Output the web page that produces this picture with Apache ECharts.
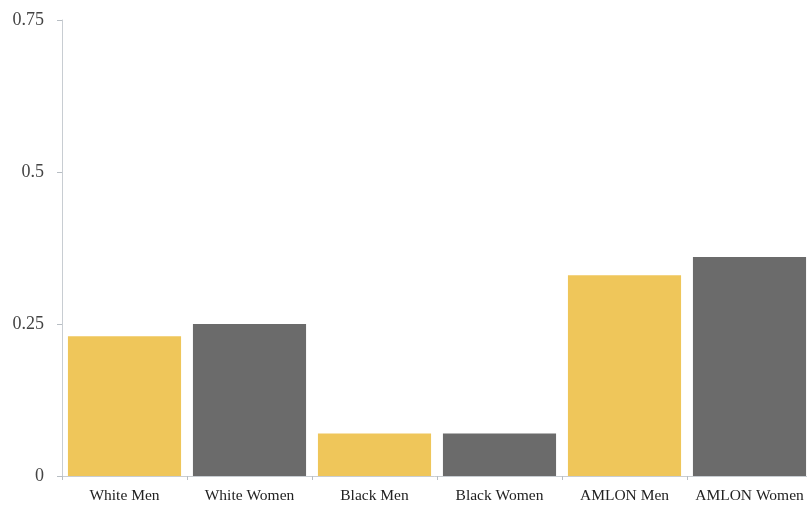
<!DOCTYPE html>
<html><head><meta charset="utf-8">
<script src="https://cdn.jsdelivr.net/npm/echarts@6/dist/echarts.min.js"></script>
<style>html,body{margin:0;padding:0;background:#fff}#c{width:807px;height:505px}</style>
</head><body><div id="c"></div>
<script>
const categories = ["White Men","White Women","Black Men","Black Women","AMLON Men","AMLON Women"];
const values = [0.23, 0.25, 0.07, 0.07, 0.33, 0.36];
const barColors = ["#EFC65A","#6B6B6B","#EFC65A","#6B6B6B","#EFC65A","#6B6B6B"];
const yTicks = [0, 0.25, 0.5, 0.75];
const yLabels = {"0":"0","0.25":"0.25","0.5":"0.5","0.75":"0.75"};

const chart = echarts.init(document.getElementById('c'));
chart.setOption({
  animation: false,
  grid: {left: 62, width: 750, top: 20, height: 456, containLabel: false, outerBoundsMode: 'none'},
  xAxis: {
    type: 'category', data: categories,
    axisLine: {lineStyle: {color: '#C8CDD2', width: 1}},
    axisTick: {show: true, length: 4, lineStyle: {color: '#B8BEC4'}},
    axisLabel: {color: '#222', fontFamily: 'Liberation Serif', fontSize: 15.5, margin: 12, interval: 0, hideOverlap: false}
  },
  yAxis: {
    type: 'value', min: yTicks[0], max: yTicks[yTicks.length-1], interval: 0.25,
    axisLine: {show: true, lineStyle: {color: '#C8CDD2', width: 1}},
    axisTick: {show: true, length: 5, lineStyle: {color: '#B8BEC4'}},
    splitLine: {show: false},
    axisLabel: {color: '#444', fontFamily: 'Liberation Serif', fontSize: 18, margin: 18,
      formatter: v => yLabels[String(v)] ?? String(v)}
  },
  series: [{
    type: 'bar', barCategoryGap: '9.5%',
    data: values.map((v, i) => ({value: v, itemStyle: {color: barColors[i]}}))
  }]
});
</script></body></html>
